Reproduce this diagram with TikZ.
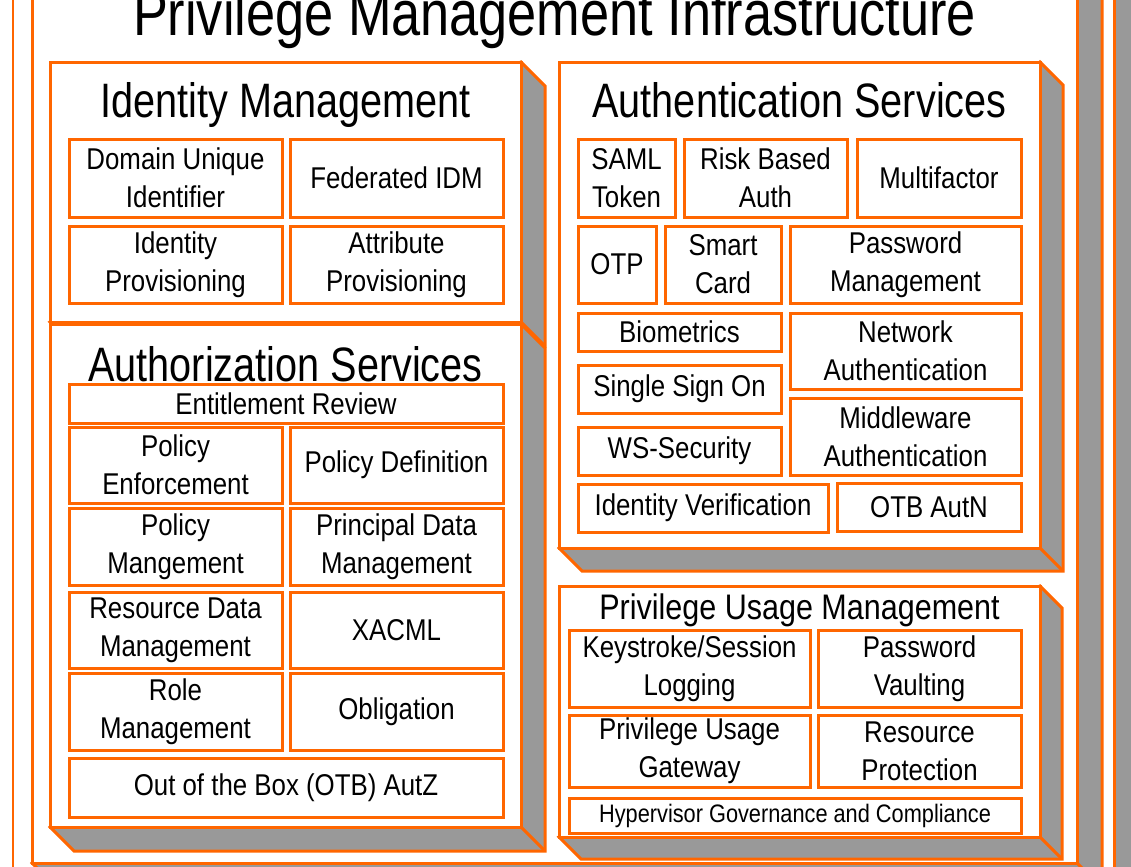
\documentclass[tikz,border=0pt]{standalone}
\usepackage{fontspec}
\setmainfont{Liberation Sans}[FakeStretch=0.86]
\newfontfamily\headfont{Liberation Sans}[FakeStretch=0.82]
\tikzset{
  frame-line/.style={
    draw=pmiorange,
    line width=0.06cm,
    line join=miter
  },
  cube-front/.style={frame-line, fill=white},
  cube-side/.style={frame-line, fill=pmigray},
  item-box/.style={draw=pmiorange, line width=0.06cm, fill=white, inner sep=0pt, align=center, font=\fontsize{17.1}{21.6}\selectfont},
  small-item/.style={font=\fontsize{14.4}{16}\selectfont},
  head-text/.style={anchor=base, inner sep=0pt, font=\headfont\fontsize{27.5}{33}\selectfont},
  sub-head-text/.style={anchor=base, inner sep=0pt, font=\fontsize{20.2}{22}\selectfont},
  title-text/.style={anchor=base, inner sep=0pt, font=\headfont\fontsize{36.3}{40}\selectfont}
}
\definecolor{pmiorange}{RGB}{255,102,0}
\definecolor{pmigray}{RGB}{153,153,153}
% cube: x1, y1, x2, y2, depth (pixel units, y downwards)
\newcommand{\cubebox}[5]{
  \draw[cube-side] (#3,#2) -- ++(#5,#5) -- (#3+#5,#4+#5) -- (#1+#5,#4+#5) -- (#1,#4) -- cycle;
  \draw[frame-line] (#3,#4) -- ++(#5,#5);
  \draw[cube-front] (#1,#2) rectangle (#3,#4);
}
% item: name, x1, y1, x2, y2, text
\newcommand{\itembox}[7][]{
  \node[item-box, #1, minimum width={(#5-#3)*0.02cm}, minimum height={(#6-#4)*0.02cm}] (#2) at ({(#3+#5)/2},{(#4+#6)/2}) {#7};
}

\begin{document}
\begin{tikzpicture}[x=0.02cm, y=-0.02cm]
  \useasboundingbox (0,0) rectangle (1131,866);
  \clip (0,0) rectangle (1131,866);

  % Outer frames
  \cubebox{13}{-60}{1114}{900}{25}
  \cubebox{32}{-60}{1077}{863}{25}
  \node[title-text] (title) at (554.5,35) {Privilege Management Infrastructure};

  % Identity Management
  \cubebox{50}{62}{521}{322}{24}
  \node[head-text] (idm-head) at (285.5,117) {Identity Management};
  \itembox{idm-domain}{69}{139}{282}{217}{Domain Unique\\Identifier}
  \itembox{idm-federated}{290}{139}{503}{217}{Federated IDM}
  \itembox{idm-provisioning}{69}{226}{282}{303}{Identity\\Provisioning}
  \itembox{idm-attribute}{290}{226}{503}{303}{Attribute\\Provisioning}

  % Authorization Services
  \cubebox{50}{324}{521}{827}{24}
  \node[head-text] (autz-head) at (285.5,381) {Authorization Services};
  \itembox{autz-entitlement}{69}{384}{503}{423}{Entitlement Review}
  \itembox{autz-enforcement}{69}{427}{282}{503}{Policy\\Enforcement}
  \itembox{autz-definition}{290}{427}{503}{503}{Policy Definition}
  \itembox{autz-mangement}{69}{508}{282}{585}{Policy\\Mangement}
  \itembox{autz-principal}{290}{508}{503}{585}{Principal Data\\Management}
  \itembox{autz-resource}{69}{592}{282}{668}{Resource Data\\Management}
  \itembox{autz-xacml}{290}{592}{503}{668}{XACML}
  \itembox{autz-role}{69}{673}{282}{750}{Role\\Management}
  \itembox{autz-obligation}{290}{673}{503}{750}{Obligation}
  \itembox{autz-otb}{69}{758}{503}{817}{Out of the Box (OTB) AutZ}

  % Authentication Services
  \cubebox{559}{62}{1040}{548}{23}
  \node[head-text] (autn-head) at (799.5,117) {Authentication Services};
  \itembox{autn-saml}{578}{139}{675}{217}{SAML\\Token}
  \itembox{autn-risk}{684}{139}{847}{217}{Risk Based\\Auth}
  \itembox{autn-multifactor}{857}{139}{1021}{217}{Multifactor}
  \itembox{autn-otp}{578}{226}{656}{303}{OTP}
  \itembox{autn-smartcard}{665}{226}{781}{303}{Smart\\Card}
  \itembox{autn-password}{790}{226}{1021}{303}{Password\\Management}
  \itembox{autn-biometrics}{578}{313}{781}{351}{Biometrics}
  \itembox{autn-network}{790}{313}{1021}{389}{Network\\Authentication}
  \itembox{autn-sso}{578}{365}{781}{413}{Single Sign On}
  \itembox{autn-middleware}{790}{398}{1021}{475}{Middleware\\Authentication}
  \itembox{autn-wssecurity}{578}{427}{781}{475}{WS-Security}
  \itembox{autn-verification}{578}{484}{828}{532}{Identity Verification}
  \itembox{autn-otb}{837}{483}{1021}{531}{OTB AutN}

  % Privilege Usage Management
  \cubebox{559}{586}{1040}{837}{22}
  \node[sub-head-text] (pum-head) at (799.5,619) {Privilege Usage Management};
  \itembox{pum-keystroke}{569}{630}{810}{707}{Keystroke/Session\\Logging}
  \itembox{pum-vaulting}{818}{630}{1021}{707}{Password\\Vaulting}
  \itembox{pum-gateway}{569}{715}{810}{787}{Privilege Usage\\Gateway}
  \itembox{pum-protection}{818}{715}{1021}{787}{Resource\\Protection}
  \itembox[small-item]{pum-hypervisor}{569}{798}{1021}{833}{Hypervisor Governance and Compliance}
\end{tikzpicture}
\end{document}
